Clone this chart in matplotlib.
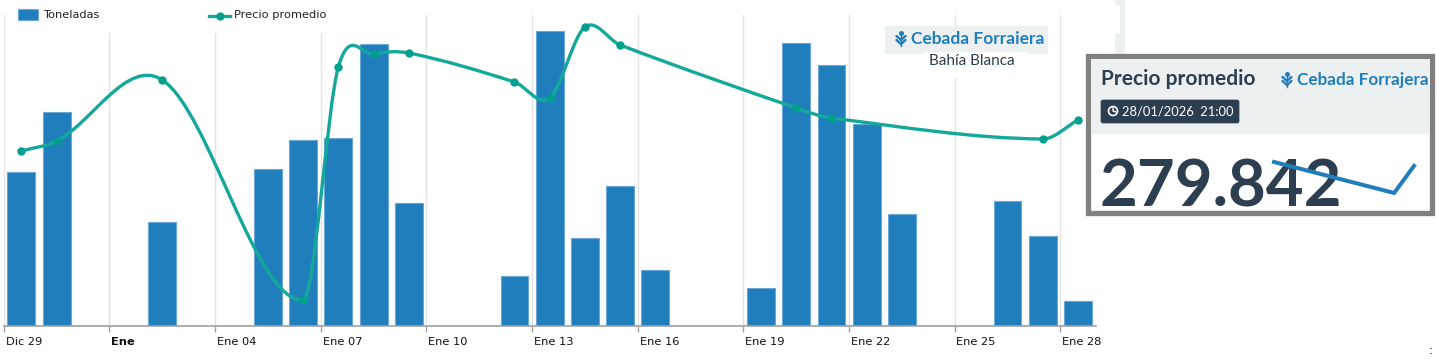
import numpy as np
import matplotlib
matplotlib.use("Agg")
import matplotlib.pyplot as plt
from matplotlib.patches import Rectangle, FancyBboxPatch, PathPatch, Circle
from matplotlib.path import Path

W, H = 1442, 360

# dias del 29/12 al 28/01
dias = ['Dic 29', 'Dic 30', 'Dic 31', 'Ene', 'Ene 02', 'Ene 03', 'Ene 04', 'Ene 05', 'Ene 06', 'Ene 07', 'Ene 08',
        'Ene 09', 'Ene 10', 'Ene 11', 'Ene 12', 'Ene 13', 'Ene 14', 'Ene 15', 'Ene 16', 'Ene 17', 'Ene 18',
        'Ene 19', 'Ene 20', 'Ene 21', 'Ene 22', 'Ene 23', 'Ene 24', 'Ene 25', 'Ene 26', 'Ene 27', 'Ene 28']
tick_idx = [0, 3, 6, 9, 12, 15, 18, 21, 24, 27, 30]

# toneladas (escala leida del alto de las barras)
ton_idx = [0, 1, 4, 7, 8, 9, 10, 11, 14, 15, 16, 17, 18, 21, 22, 23, 24, 25, 28, 29, 30]
toneladas = [154, 214, 104, 157, 186, 188, 282, 123, 50, 295, 88, 140, 56, 38, 283, 261, 202, 112, 125, 90, 25]

precio_idx = [0, 1, 4, 8, 9, 10, 11, 14, 15, 16, 17, 22, 23, 29, 30]
precio = [278292, 278792, 281842, 270842, 282492, 283142, 283192, 281742, 280942, 284492, 283592,
          280442, 279942, 278892, 279842]

spark_x = [0, 1.03, 1.2]
spark_y = [281000, 279400, 280800]

azul = '#217ebc'
verde = '#14a89a'
punto = '#00a08c'
oscuro = '#2c3e50'
gris_panel = '#ecf0f1'


def suave(xs, ys):
    # spline de hermite con dias desparejos, como la curva del grafico original
    n = len(xs)
    pend = []
    for i in range(n):
        a = max(i - 1, 0)
        b = min(i + 1, n - 1)
        pend.append((ys[b] - ys[a]) / (xs[b] - xs[a]))
    verts = [(xs[0], ys[0])]
    codes = [Path.MOVETO]
    for i in range(n - 1):
        h = (xs[i + 1] - xs[i]) / 3
        verts += [(xs[i] + h, ys[i] + pend[i] * h), (xs[i + 1] - h, ys[i + 1] - pend[i + 1] * h),
                  (xs[i + 1], ys[i + 1])]
        codes += [Path.CURVE4] * 3
    return Path(verts, codes)


def espiga(fig_ax, cx, cy, color):
    # iconito de la espiga, en pixeles de la figura
    fig_ax.plot([cx, cx], [cy - 3, cy + 8], color=color, lw=1)
    fig_ax.plot([cx], [cy - 5], marker='o', ms=3.6, color=color, mew=0)
    for dy in (-1, 3):
        fig_ax.plot([cx - 4.5, cx], [cy + dy - 1, cy + dy + 3], color=color, lw=1.7, solid_capstyle='round')
        fig_ax.plot([cx + 4.5, cx], [cy + dy - 1, cy + dy + 3], color=color, lw=1.7, solid_capstyle='round')


fig = plt.figure(figsize=(W / 100, H / 100), dpi=100)
plt.rcParams['font.family'] = ['DejaVu Sans']

# capa de fondo en pixeles
bg = fig.add_axes([0, 0, 1, 1])
bg.set_xlim(0, W)
bg.set_ylim(H, 0)
bg.axis('off')
bg.add_patch(Rectangle((1120, 0), 5, 55, color=gris_panel, lw=0))
bg.add_patch(Rectangle((1115, 0), 5, 5, color=gris_panel, lw=0))
bg.add_patch(Rectangle((1115, 33), 5, 22, color=gris_panel, lw=0))

# grafico principal
x0, x1, y_base, y_top = 3.8, 1095.6, 325.5, 15
ax = fig.add_axes([x0 / W, 1 - y_base / H, (x1 - x0) / W, (y_base - y_top) / H])
ax.patch.set_alpha(0)
ax.set_xlim(-0.5, 30.5)
ax.set_ylim(0, y_base - y_top)
for s in ('top', 'left', 'right'):
    ax.spines[s].set_visible(False)
ax.spines['bottom'].set_color('#a0a0a0')
ax.spines['bottom'].set_linewidth(1.2)
ax.set_xticks([i - 0.5 for i in tick_idx])
ax.set_xticklabels([])
ax.tick_params(axis='x', length=4.5, color='#a0a0a0', width=1)
ax.set_yticks([])
ax.grid(axis='x', color='#e2e2e2', lw=1)
ax.set_axisbelow(True)
ax.bar(ton_idx, toneladas, width=0.79, color=azul, edgecolor='#6aa6d6', lw=0.8, zorder=2)
for i in tick_idx:
    ax.text(i - 0.45, -16.5, dias[i], fontsize=8.2, color='#111111', ha='left', va='center',
            fontweight='bold' if dias[i] == 'Ene' else 'normal')

ax2 = ax.twinx()
ax2.set_ylim(269567, 285092)
ax2.axis('off')
ax2.add_patch(PathPatch(suave(precio_idx, precio), fc='none', ec=verde, lw=2.4, zorder=3))
ax2.plot(precio_idx, precio, ls='', marker='o', ms=6, color=punto, mew=0, zorder=4)

# capa de arriba: leyenda, rotulo y tarjeta
ov = fig.add_axes([0, 0, 1, 1])
ov.set_xlim(0, W)
ov.set_ylim(H, 0)
ov.axis('off')
ov.add_patch(Rectangle((100, 0), 315, 33, color='white', lw=0))
ov.add_patch(Rectangle((18, 9), 20, 11, fc=azul, ec='#6aa6d6', lw=0.8))
ov.text(43, 15, 'Toneladas', fontsize=8.2, color='#222222', va='center')
ov.plot([209, 230], [16, 16], color=verde, lw=2.4)
ov.plot([220], [16], marker='o', ms=6, color=punto, mew=0)
ov.text(234, 15, 'Precio promedio', fontsize=8.2, color='#222222', va='center')

ov.add_patch(Rectangle((885, 26), 163, 28, color=gris_panel, lw=0))
ov.add_patch(Rectangle((923, 52), 104, 26, color='white', lw=0))
espiga(ov, 901, 38, azul)
ov.text(911, 39, 'Cebada Forraiera', fontsize=12.5, color=azul, fontweight='bold', family='Lato', va='center')
ov.text(972, 61, 'Bahía Blanca', fontsize=11, color=oscuro, family='Lato', ha='center', va='center')

ov.add_patch(Rectangle((1088, 56), 344, 157, fc='white', ec='#808080', lw=3.8))
ov.add_patch(Rectangle((1091, 59), 339, 75, color=gris_panel, lw=0))
ov.text(1101, 79, 'Precio promedio', fontsize=15, color=oscuro, fontweight='bold', family='Lato', va='center')
espiga(ov, 1287, 79, azul)
ov.text(1297, 80, 'Cebada Forrajera', fontsize=12.3, color=azul, fontweight='bold', family='Lato', va='center')
ov.add_patch(FancyBboxPatch((1101, 100), 138, 23, boxstyle='round,pad=0,rounding_size=2', fc=oscuro, ec=oscuro, lw=0.5))
ov.add_patch(Circle((1113, 111), 4.5, fc='none', ec='white', lw=1.2))
ov.plot([1113, 1113, 1116], [108, 111, 112], color='white', lw=1)
ov.text(1122, 111, '28/01/2026  21:00', fontsize=9.3, color='white', family='Lato', va='center')
ov.text(1100, 188, '279.842', fontsize=47, color=oscuro, fontweight='bold', family='Lato', va='center')

sp = fig.add_axes([1274 / W, 1 - 193 / H, 140 / W, 31 / H])
sp.patch.set_alpha(0)
sp.axis('off')
sp.set_xlim(0, 1.2)
sp.set_ylim(279400, 281000)
sp.plot(spark_x, spark_y, color=azul, lw=2.9, clip_on=False)

ov.text(1431, 350, ':', fontsize=9, color='#222222', ha='center', va='center')

fig.savefig('out.png', dpi=100)
